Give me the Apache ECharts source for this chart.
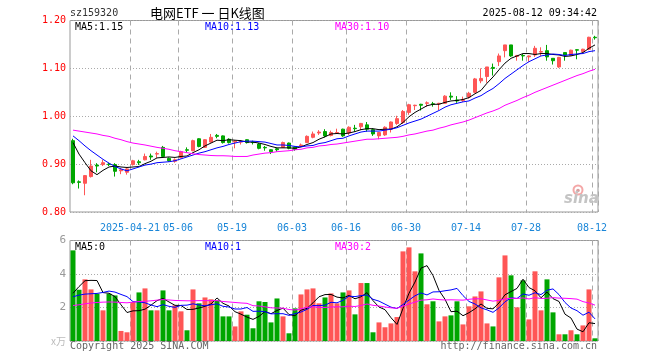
<!DOCTYPE html>
<html><head><meta charset="utf-8">
<script src="https://cdn.jsdelivr.net/npm/echarts@6/dist/echarts.min.js"></script>
<style>html,body{margin:0;padding:0;background:#fff}#c{width:660px;height:360px}</style>
</head><body><div id="c"></div>
<script>
const dates = ['2025-04-07','2025-04-08','2025-04-09','2025-04-10','2025-04-11','2025-04-14','2025-04-15','2025-04-16','2025-04-17','2025-04-18',
'2025-04-21','2025-04-22','2025-04-23','2025-04-24','2025-04-25','2025-04-28','2025-04-29','2025-04-30',
'2025-05-06','2025-05-07','2025-05-08','2025-05-09','2025-05-12','2025-05-13','2025-05-14','2025-05-15','2025-05-16',
'2025-05-19','2025-05-20','2025-05-21','2025-05-22','2025-05-23','2025-05-26','2025-05-27','2025-05-28','2025-05-29','2025-05-30',
'2025-06-03','2025-06-04','2025-06-05','2025-06-06','2025-06-09','2025-06-10','2025-06-11','2025-06-12','2025-06-13',
'2025-06-16','2025-06-17','2025-06-18','2025-06-19','2025-06-20','2025-06-23','2025-06-24','2025-06-25','2025-06-26','2025-06-27',
'2025-06-30','2025-07-01','2025-07-02','2025-07-03','2025-07-04','2025-07-07','2025-07-08','2025-07-09','2025-07-10','2025-07-11',
'2025-07-14','2025-07-15','2025-07-16','2025-07-17','2025-07-18','2025-07-21','2025-07-22','2025-07-23','2025-07-24','2025-07-25',
'2025-07-28','2025-07-29','2025-07-30','2025-07-31','2025-08-01','2025-08-04','2025-08-05','2025-08-06','2025-08-07','2025-08-08',
'2025-08-11','2025-08-12'];

const tickDates = ['2025-04-21','2025-05-06','2025-05-19','2025-06-03','2025-06-16','2025-06-30','2025-07-14','2025-07-28','2025-08-12'];
const tickLabels = ['2025-04-21','05-06','05-19','06-03','06-16','06-30','07-14','07-28','08-12'];

const opens = [.949,.863,.860,.874,.898,.899,.900,.899,.886,.883,.899,.905,.909,.917,.921,.935,.912,.906,.914,.930,
.928,.953,.935,.946,.960,.959,.952,.946,.946,.951,.946,.942,.935,.930,.932,.935,.944,.936,.938,.945,
.956,.965,.968,.960,.965,.973,.965,.975,.978,.982,.972,.959,.961,.973,.985,.987,1.008,1.022,1.025,1.027,
1.026,1.026,1.027,1.042,1.034,1.033,1.040,1.050,1.074,1.083,1.102,1.114,1.137,1.149,1.125,1.127,1.124,1.128,1.134,1.137,
1.121,1.103,1.133,1.127,1.139,1.135,1.140,1.165];
const closes = [.861,.862,.876,.896,.896,.903,.899,.885,.888,.890,.907,.903,.916,.915,.922,.916,.907,.909,.926,.929,
.949,.937,.951,.956,.958,.945,.945,.948,.947,.945,.945,.933,.934,.926,.930,.945,.933,.931,.940,.958,
.963,.967,.959,.966,.966,.959,.977,.974,.985,.973,.963,.966,.977,.988,.995,1.010,1.024,1.023,1.023,1.028,
1.025,1.027,1.042,1.040,1.032,1.035,1.048,1.078,1.079,1.103,1.100,1.126,1.149,1.126,1.127,1.126,1.126,1.142,1.135,1.124,
1.116,1.123,1.128,1.138,1.138,1.140,1.165,1.164];
const lows = [.858,.849,.835,.872,.883,.896,.896,.874,.879,.878,.897,.898,.908,.909,.913,.914,.905,.903,.912,.924,
.927,.935,.934,.945,.954,.943,.943,.933,.941,.943,.941,.931,.928,.921,.926,.934,.931,.928,.936,.944,
.954,.961,.956,.958,.963,.957,.961,.968,.971,.968,.959,.952,.959,.966,.982,.984,1.003,1.013,1.012,1.020,
1.020,1.013,1.026,1.034,1.028,1.030,1.037,1.048,1.069,1.070,1.085,1.105,1.123,1.124,1.116,1.116,1.114,1.124,1.126,1.116,
1.108,1.101,1.116,1.126,1.119,1.133,1.138,1.160];
const highs = [.953,.866,.877,.909,.902,.909,.903,.902,.892,.892,.909,.909,.922,.922,.926,.938,.914,.912,.928,.935,
.951,.954,.952,.963,.963,.960,.954,.950,.950,.952,.949,.944,.938,.931,.934,.947,.945,.937,.943,.960,
.968,.971,.973,.970,.974,.974,.979,.982,.986,.988,.975,.967,.979,.989,1.001,1.013,1.026,1.024,1.026,1.031,
1.030,1.028,1.044,1.050,1.042,1.041,1.051,1.080,1.100,1.103,1.110,1.131,1.149,1.149,1.128,1.130,1.127,1.147,1.144,1.149,
1.121,1.124,1.133,1.139,1.140,1.141,1.166,1.168];

const ma5 = [.945,.921,.903,.886,.878,.887,.894,.896,.894,.893,.894,.895,.901,.906,.913,.914,.915,.914,.916,.917,
.924,.930,.938,.944,.950,.949,.951,.950,.949,.946,.946,.944,.941,.937,.934,.934,.934,.933,.936,.941,
.945,.952,.957,.963,.964,.963,.965,.968,.972,.974,.974,.972,.973,.973,.978,.987,.999,1.008,1.015,1.022,
1.025,1.025,1.029,1.032,1.033,1.035,1.039,1.047,1.054,1.069,1.082,1.097,1.111,1.121,1.126,1.131,1.131,1.129,1.131,1.131,
1.129,1.128,1.125,1.126,1.129,1.133,1.142,1.149];
const ma10 = [.959,.949,.938,.928,.919,.910,.902,.895,.890,.886,.890,.894,.898,.900,.903,.904,.905,.907,.911,.915,
.919,.923,.926,.930,.934,.937,.941,.944,.947,.948,.948,.947,.946,.943,.940,.940,.939,.937,.936,.938,
.939,.943,.945,.949,.953,.954,.959,.963,.967,.969,.969,.969,.971,.973,.976,.981,.986,.990,.994,1.000,
1.006,1.012,1.019,1.024,1.027,1.030,1.032,1.038,1.043,1.051,1.058,1.068,1.079,1.088,1.097,1.106,1.114,1.120,1.126,1.128,
1.130,1.129,1.127,1.129,1.130,1.131,1.135,1.137];
const ma30 = [.971,.969,.967,.965,.963,.960,.958,.954,.951,.947,.944,.942,.940,.9375,.935,.933,.931,.928,.926,.924,
.9215,.920,.919,.918,.9175,.9175,.917,.916,.916,.916,.919,.921,.923,.924,.926,.927,.928,.930,.931,.934,
.935,.938,.939,.941,.942,.944,.946,.948,.950,.952,.952,.953,.954,.955,.956,.958,.961,.963,.966,.969,
.971,.975,.978,.982,.985,.988,.992,.997,1.002,1.007,1.011,1.016,1.023,1.028,1.033,1.039,1.044,1.050,1.055,1.060,
1.065,1.070,1.075,1.080,1.085,1.089,1.094,1.098];

const volumes = [5.41,3.06,3.68,3.08,2.82,1.83,2.82,2.72,0.60,0.52,2.33,2.90,3.14,1.83,1.83,3.02,1.83,2.13,1.77,0.64,
3.08,2.25,2.60,2.49,2.43,1.47,1.47,0.87,1.77,1.57,0.76,2.37,2.33,1.11,2.54,1.47,0.46,1.95,2.78,3.08,
3.14,2.25,2.60,2.84,2.25,2.90,3.02,1.59,3.46,3.46,0.52,1.11,0.82,1.05,1.43,5.35,5.59,4.16,5.23,2.19,
2.37,1.17,1.47,1.53,2.37,0.99,2.07,2.66,2.96,1.05,0.87,3.80,5.11,3.92,2.01,3.62,1.29,4.16,1.83,3.68,
1.71,0.40,0.40,0.64,0.40,0.93,3.08,0.16];
const volMa5 = [2.85,3.25,3.60,3.62,3.61,2.89,2.85,2.65,2.16,1.70,1.80,1.81,1.90,2.14,2.41,2.54,2.33,2.13,2.12,1.88,
1.89,1.97,2.07,2.21,2.57,2.25,2.09,1.75,1.60,1.43,1.29,1.47,1.76,1.63,1.82,1.96,1.58,1.51,1.84,1.95,
2.28,2.64,2.77,2.78,2.62,2.57,2.72,2.52,2.64,2.89,2.41,2.03,1.87,1.39,0.99,1.95,2.85,3.52,4.35,4.50,
3.91,3.02,2.49,1.75,1.78,1.51,1.69,1.92,2.21,1.95,1.92,2.27,2.76,2.95,3.14,3.69,3.19,3.00,2.58,2.92,
2.53,2.36,1.60,1.37,0.71,0.55,1.09,1.04];
const volMa10 = [2.64,2.74,2.80,2.82,2.84,2.90,2.98,2.92,2.78,2.65,2.35,2.33,2.28,2.15,2.05,2.17,2.07,2.01,2.13,2.14,
2.22,2.15,2.10,2.16,2.22,2.07,2.03,1.91,1.91,2.00,1.77,1.78,1.75,1.62,1.63,1.63,1.53,1.63,1.73,1.89,
2.12,2.11,2.14,2.31,2.28,2.43,2.68,2.65,2.71,2.75,2.49,2.38,2.20,2.02,1.94,2.18,2.44,2.70,2.87,2.75,
2.93,2.94,3.00,3.05,3.14,2.71,2.36,2.21,1.98,1.86,1.71,1.98,2.34,2.58,2.54,2.81,2.73,2.88,2.77,3.03,
3.11,2.77,2.30,1.97,1.81,1.54,1.72,1.32];
const volMa30 = [2.12,2.16,2.22,2.27,2.30,2.32,2.33,2.32,2.30,2.28,2.32,2.36,2.37,2.40,2.44,2.47,2.45,2.42,2.41,2.40,
2.40,2.41,2.41,2.41,2.41,2.36,2.33,2.30,2.27,2.25,2.11,2.09,2.04,1.98,1.97,1.96,1.88,1.85,1.92,2.01,
2.04,2.01,2.00,2.03,2.04,2.04,2.08,2.06,2.12,2.21,2.13,2.09,2.03,1.98,1.95,2.08,2.21,2.32,2.44,2.46,
2.51,2.47,2.45,2.46,2.45,2.44,2.49,2.52,2.52,2.45,2.38,2.43,2.51,2.55,2.54,2.57,2.51,2.59,2.54,2.55,
2.59,2.56,2.55,2.53,2.50,2.35,2.27,2.14];

const priceTicks = [0.80, 0.90, 1.00, 1.10, 1.20];
const volTicks = [0, 2, 4, 6];

const RED = '#ff5656', GREEN = '#00a600';
const MONO = '"DejaVu Sans Mono", monospace';
const tickSet = new Set(tickDates.map(d => dates.indexOf(d)));
const labelOf = {}; tickDates.forEach((d, k) => labelOf[d] = tickLabels[k]);

const candle = dates.map((d, i) => [opens[i], closes[i], lows[i], highs[i]]);

function txt(text, x, y, fill, align, font) {
  return {type: 'text', x: x, y: y, z: 100, silent: true,
    style: {text: text, fill: fill, align: align || 'left', verticalAlign: 'middle', font: font || ('10px ' + MONO)}};
}

const chart = echarts.init(document.getElementById('c'), null, {renderer: 'canvas'});
const dashed = {show: true, interval: (i) => tickSet.has(i), lineStyle: {color: '#aaa', type: [5, 4], width: 1}};
chart.setOption({
  animation: false,
  backgroundColor: '#fff',
  grid: [
    {left: 70, width: 528, top: 20.5, height: 191.5, show: true, borderColor: '#999', borderWidth: 1, backgroundColor: 'transparent'},
    {left: 70, width: 528, top: 240.5, height: 100.5, show: true, borderColor: '#999', borderWidth: 1, backgroundColor: 'transparent'}
  ],
  xAxis: [
    {type: 'category', gridIndex: 0, data: dates, boundaryGap: true,
      axisLine: {show: false}, axisTick: {show: false},
      axisLabel: {interval: (i) => tickSet.has(i), formatter: (v) => labelOf[v] || '', color: '#1a86d8',
        fontFamily: MONO, fontSize: 10, margin: 11, padding: [0, 6, 0, 0]},
      splitLine: dashed},
    {type: 'category', gridIndex: 1, data: dates, boundaryGap: true,
      axisLine: {show: false}, axisTick: {show: false}, axisLabel: {show: false},
      splitLine: dashed}
  ],
  yAxis: [
    {type: 'value', gridIndex: 0, min: priceTicks[0], max: priceTicks[priceTicks.length - 1], interval: 0.1,
      axisLine: {show: false}, axisTick: {show: false},
      axisLabel: {formatter: (v) => v.toFixed(2), color: '#ff0000', fontFamily: MONO, fontSize: 10, margin: 4},
      splitLine: {show: true, lineStyle: {color: '#aaa', type: [1, 2], width: 1}}},
    {type: 'value', gridIndex: 1, min: volTicks[0], max: volTicks[volTicks.length - 1], interval: 2,
      axisLine: {show: false}, axisTick: {show: false},
      axisLabel: {formatter: (v) => v === 0 ? '' : String(v), color: '#999', fontFamily: MONO, fontSize: 11, margin: 4},
      splitLine: {show: true, lineStyle: {color: '#aaa', type: [1, 2], width: 1}}}
  ],
  series: [
    {type: 'candlestick', xAxisIndex: 0, yAxisIndex: 0, data: candle, barWidth: 4,
      itemStyle: {color: RED, color0: GREEN, borderColor: RED, borderColor0: GREEN, borderWidth: 1}},
    {type: 'line', xAxisIndex: 0, yAxisIndex: 0, data: ma5, symbol: 'none', lineStyle: {color: '#000', width: 1}},
    {type: 'line', xAxisIndex: 0, yAxisIndex: 0, data: ma10, symbol: 'none', lineStyle: {color: '#0000ff', width: 1}},
    {type: 'line', xAxisIndex: 0, yAxisIndex: 0, data: ma30, symbol: 'none', lineStyle: {color: '#ff00ff', width: 1}},
    {type: 'bar', xAxisIndex: 1, yAxisIndex: 1, data: volumes, barWidth: 5,
      itemStyle: {color: (p) => closes[p.dataIndex] >= opens[p.dataIndex] ? RED : GREEN}},
    {type: 'line', xAxisIndex: 1, yAxisIndex: 1, data: volMa5, symbol: 'none', lineStyle: {color: '#000', width: 1}},
    {type: 'line', xAxisIndex: 1, yAxisIndex: 1, data: volMa10, symbol: 'none', lineStyle: {color: '#0000ff', width: 1}},
    {type: 'line', xAxisIndex: 1, yAxisIndex: 1, data: volMa30, symbol: 'none', lineStyle: {color: '#ff00ff', width: 1}}
  ],
  graphic: [
    txt('sz159320', 70, 13, '#333'),
    txt('电网ETF 一 日K线图', 150, 13, '#000', 'left', '13px "Noto Sans CJK SC"'),
    txt('2025-08-12 09:34:42', 597, 13, '#000', 'right'),
    txt('MA5:1.15', 75, 27, '#000'),
    txt('MA10:1.13', 205, 27, '#0000ff'),
    txt('MA30:1.10', 335, 27, '#ff00ff'),
    txt('MA5:0', 75, 247, '#000'),
    txt('MA10:1', 205, 247, '#0000ff'),
    txt('MA30:2', 335, 247, '#ff00ff'),
    txt('x万', 66, 341, '#bbb', 'right', '10px "Noto Sans CJK SC"'),
    txt('Copyright 2025 SINA.COM', 70, 346, '#666'),
    txt('http://finance.sina.com.cn', 597, 346, '#666', 'right'),
    {type: 'circle', z: 90, silent: true, shape: {cx: 578, cy: 190, r: 4.5}, style: {fill: 'none', stroke: '#f4a7a7', lineWidth: 2}},
    {type: 'circle', z: 90, silent: true, shape: {cx: 578, cy: 190.5, r: 1.8}, style: {fill: '#d8a0a0'}},
    {type: 'text', z: 90, silent: true, x: 564, y: 199, style: {text: 'sina', fill: '#c4c4c4', align: 'left', verticalAlign: 'middle', font: 'italic bold 15px "DejaVu Sans"'}}
  ]
});
</script></body></html>
